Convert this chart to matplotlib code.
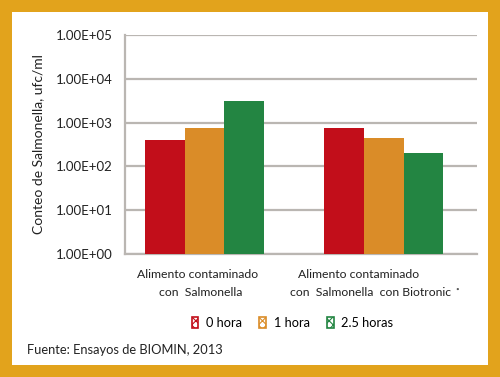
import numpy as np
import matplotlib.pyplot as plt
from matplotlib.patches import Rectangle, Patch
from matplotlib.ticker import FixedLocator, FuncFormatter

# Data
groups = ["Alimento contaminado\ncon  Salmonella",
          "Alimento contaminado\ncon  Salmonella   con Biotronic"]
series = ["0 hora", "1 hora", "2.5 horas"]
hora_0 = [400, 750]
hora_1 = [740, 440]
hora_25 = [3100, 200]
colors = ["#C20E1A", "#DA8C28", "#238542"]

plt.rcParams['font.family'] = ['Lato', 'DejaVu Sans']
plt.rcParams['hatch.linewidth'] = 0.8

fig = plt.figure(figsize=(5, 3.77), dpi=100, facecolor="#E2A31C")
fig.patches.append(Rectangle((0.024, 0.0318), 0.952, 0.936,
                             transform=fig.transFigure, facecolor="white",
                             edgecolor="none", zorder=-10))

ax = fig.add_axes([0.25, 0.3263, 0.704, 0.581])
ax.set_facecolor("white")

x = np.arange(len(groups))
w = 0.223
for i, (vals, c) in enumerate(zip([hora_0, hora_1, hora_25], colors)):
    ax.bar(x + (i - 1) * w, vals, width=w, color=c, zorder=3)

ax.set_yscale("log")
ax.set_ylim(1, 1e5)
ax.set_xlim(-0.444, 1.522)
ax.yaxis.set_major_locator(FixedLocator([10.0 ** k for k in range(6)]))
ax.yaxis.set_minor_locator(FixedLocator([]))
ax.yaxis.set_major_formatter(FuncFormatter(lambda v, p: "1.00E+%02d" % round(np.log10(v))))
ax.tick_params(axis="y", length=0, pad=9, labelsize=9.5, colors="#222222")
ax.tick_params(axis="x", length=0)
ax.set_xticks([])

ax.grid(axis="y", color="#BAB6B2", linewidth=1.6, zorder=0)
for s in ["top", "right"]:
    ax.spines[s].set_visible(False)
for s in ["left", "bottom"]:
    ax.spines[s].set_color("#BAB6B2")
    ax.spines[s].set_linewidth(1.6)

ax.set_ylabel("Conteo de Salmonella, ufc/ml", fontsize=10, color="#222222", labelpad=8)

# category labels
lab_tr = ax.get_xaxis_transform()
fs = 8.8
ax.text(x[0] - 0.039, -0.095, "Alimento contaminado", transform=lab_tr,
        ha="center", va="center", fontsize=fs, color="#222222")
ax.text(x[0] - 0.02, -0.175, "con  Salmonella", transform=lab_tr,
        ha="center", va="center", fontsize=fs, color="#222222")
ax.text(x[1] - 0.139, -0.095, "Alimento contaminado", transform=lab_tr,
        ha="center", va="center", fontsize=fs, color="#222222")
ax.text(x[1] - 0.075, -0.175, "con  Salmonella  con Biotronic", transform=lab_tr,
        ha="center", va="center", fontsize=fs, color="#222222")
ax.text(x[1] + 0.41, -0.16, "•", transform=lab_tr,
        ha="center", va="center", fontsize=4.5, color="#555555")

handles = [Patch(facecolor="white", edgecolor=c, hatch="xxxx", linewidth=1.2)
           for c in colors]
leg = fig.legend(handles, series, loc="center", bbox_to_anchor=(0.585, 0.143),
                 ncol=3, frameon=False, fontsize=9.2, handlelength=0.5,
                 handleheight=0.9, handletextpad=0.6, columnspacing=1.4)

fig.text(0.054, 0.072, "Fuente: Ensayos de BIOMIN, 2013", fontsize=9.3,
         color="#222222", ha="left", va="center")

fig.savefig("out.png", dpi=100, facecolor=fig.get_facecolor())
